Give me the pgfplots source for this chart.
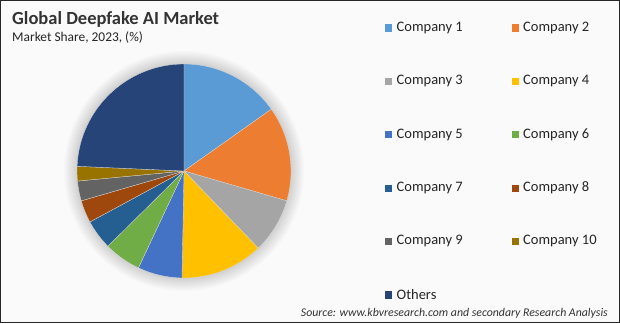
\documentclass[border=0pt]{standalone}
\usepackage{pgfplots}
\usepackage{pgfplotstable}
\pgfplotsset{compat=1.18}
\usepackage{fontspec}
\setmainfont{Carlito}
\definecolor{c0}{HTML}{5B9BD5}
\definecolor{c1}{HTML}{ED7D31}
\definecolor{c2}{HTML}{A5A5A5}
\definecolor{c3}{HTML}{FFC000}
\definecolor{c4}{HTML}{4472C4}
\definecolor{c5}{HTML}{70AD47}
\definecolor{c6}{HTML}{255E91}
\definecolor{c7}{HTML}{9E480E}
\definecolor{c8}{HTML}{636363}
\definecolor{c9}{HTML}{997300}
\definecolor{c10}{HTML}{264478}
\pgfplotstableread[col sep=comma]{
name,value
Company 1,15.2
Company 2,14.3
Company 3,8.3
Company 4,12.5
Company 5,6.7
Company 6,5.6
Company 7,4.5
Company 8,3.4
Company 9,3.0
Company 10,2.2
Others,24.3
}\piedata
% cumulative angles and legend positions
\gdef\cum{0}
\pgfplotsforeachungrouped \i in {0,...,10}{%
  \pgfplotstablegetelem{\i}{value}\of\piedata
  \pgfmathsetmacro\newcum{\cum+\pgfplotsretval}%
  \pgfmathsetmacro\sa{90-3.6*\cum}%
  \pgfmathsetmacro\ea{90-3.6*\newcum}%
  \expandafter\xdef\csname sa\i\endcsname{\sa}%
  \expandafter\xdef\csname ea\i\endcsname{\ea}%
  \xdef\cum{\newcum}%
  \pgfplotstablegetelem{\i}{name}\of\piedata
  \expandafter\xdef\csname nm\i\endcsname{\pgfplotsretval}%
  \pgfmathtruncatemacro\row{int(\i/2)}%
  \pgfmathtruncatemacro\col{mod(\i,2)}%
  \pgfmathsetmacro\lx{385+\col*126.5}%
  \pgfmathsetmacro\ly{323-28-\row*53.4}%
  \pgfmathsetmacro\lxb{\lx+7.2}%
  \pgfmathsetmacro\lyb{\ly-3.6}%
  \pgfmathsetmacro\lyt{\ly+3.6}%
  \pgfmathsetmacro\lxt{\lx+11.5}%
  \pgfmathsetmacro\lyc{\ly+0.3}%
  \expandafter\xdef\csname lx\i\endcsname{\lx}%
  \expandafter\xdef\csname lxb\i\endcsname{\lxb}%
  \expandafter\xdef\csname lyb\i\endcsname{\lyb}%
  \expandafter\xdef\csname lyt\i\endcsname{\lyt}%
  \expandafter\xdef\csname lxt\i\endcsname{\lxt}%
  \expandafter\xdef\csname lyc\i\endcsname{\lyc}%
}
\begin{document}
\begin{tikzpicture}
\begin{axis}[
  width=620bp, height=323bp, scale only axis,
  xmin=0, xmax=620, ymin=0, ymax=323,
  hide axis, clip=false,
]
% background and frame
\fill[white!98!black] (axis cs:0,0) rectangle (axis cs:620,323);
\draw[black!85, line width=1.2bp] (axis cs:0.6,0.6) rectangle (axis cs:619.4,322.4);
% soft shadow
\pgfplotsinvokeforeach{1,...,10}{
  \fill[black, opacity=0.015] (axis cs:184,152) circle[radius={107bp+#1*1.3bp}];
}
% slices
\pgfplotsinvokeforeach{0,...,10}{
  \fill[c#1, draw=white!85!black, line width=0.3bp] (axis cs:184,152) -- ++(\csname sa#1\endcsname:107bp)
    arc[start angle=\csname sa#1\endcsname, end angle=\csname ea#1\endcsname, radius=107bp] -- cycle;
}
% titles
\node[anchor=base west, inner sep=0, font=\fontsize{18.5bp}{20bp}\selectfont\bfseries, text=black!80] at (axis cs:12,298.5) {Global Deepfake AI Market};
\node[anchor=base west, inner sep=0, font=\fontsize{13.4bp}{15bp}\selectfont, text=black!85] at (axis cs:12,281.3) {Market Share, 2023, (\%)};
% legend
\pgfplotsinvokeforeach{0,...,10}{
  \fill[c#1] (axis cs:\csname lx#1\endcsname,\csname lyb#1\endcsname) rectangle (axis cs:\csname lxb#1\endcsname,\csname lyt#1\endcsname);
  \node[anchor=west, inner sep=0, font=\fontsize{14.5bp}{16bp}\selectfont, text=black!85] at (axis cs:\csname lxt#1\endcsname,\csname lyc#1\endcsname) {\csname nm#1\endcsname};
}
\node[anchor=base east, inner sep=0, font=\fontsize{11.8bp}{13bp}\selectfont\itshape, text=black!80] at (axis cs:608,6.5) {Source: www.kbvresearch.com and secondary Research Analysis};
\end{axis}
\end{tikzpicture}
\end{document}
